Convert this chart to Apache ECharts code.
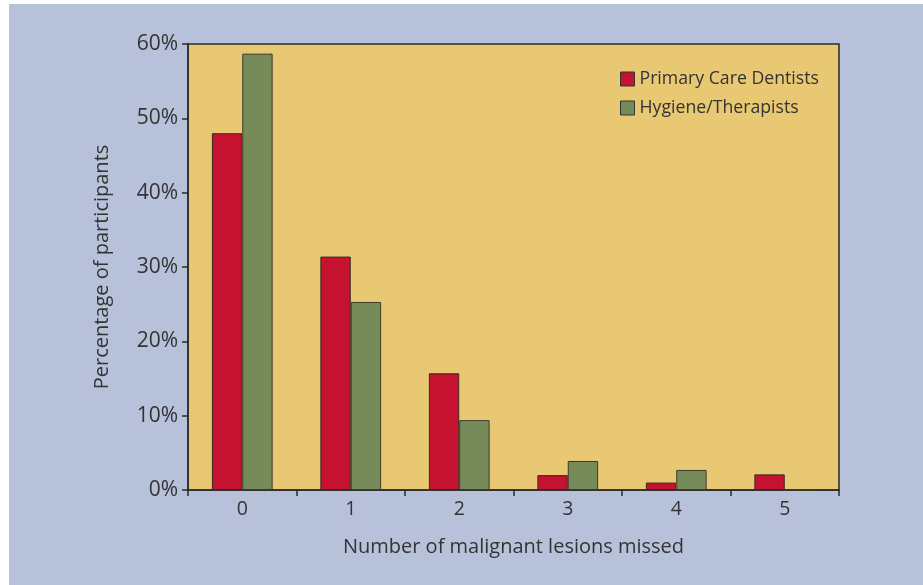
<!DOCTYPE html>
<html>
<head>
<meta charset="utf-8">
<script src="https://cdn.jsdelivr.net/npm/echarts@6/dist/echarts.min.js"></script>
<style>
  html, body { margin: 0; padding: 0; background: #ffffff; }
  #frame { position: absolute; left: 9px; top: 4px; width: 914px; height: 581px; background: #B8C1DA; }
  #chart { position: absolute; left: 0; top: 0; width: 923px; height: 585px; }
</style>
</head>
<body>
<div id="frame"></div>
<div id="chart"></div>
<script>
// Lesions missed per participant, share of each group (%)
const categories = ['0', '1', '2', '3', '4', '5'];
const dentists = [48.0, 31.4, 15.7, 2.0, 1.0, 2.1];
const hygienists = [58.7, 25.3, 9.4, 3.9, 2.7, 0];
const yTicks = [0, 10, 20, 30, 40, 50, 60];

const font = '"Open Sans", "Noto Sans", sans-serif';
const chart = echarts.init(document.getElementById('chart'), null, { renderer: 'canvas' });

chart.setOption({
  backgroundColor: 'transparent',
  textStyle: { fontFamily: font, color: '#333' },
  grid: {
    left: 188, top: 44, right: 84, bottom: 95,
    show: true, backgroundColor: '#E9C873', borderColor: '#2a2a2a', borderWidth: 1.5
  },
  legend: {
    left: 615, top: 65, orient: 'vertical', itemGap: 11,
    itemWidth: 14, itemHeight: 14, icon: 'rect',
    textStyle: { fontFamily: font, fontSize: 17.7, color: '#333' },
    data: [
      { name: 'Primary Care Dentists', itemStyle: { borderColor: '#333', borderWidth: 1 } },
      { name: 'Hygiene/Therapists', itemStyle: { borderColor: '#333', borderWidth: 1 } }
    ]
  },
  xAxis: {
    type: 'category', data: categories,
    name: 'Number of malignant lesions missed', nameLocation: 'middle', nameGap: 47,
    nameTextStyle: { fontFamily: font, fontSize: 20, color: '#333' },
    axisLine: { lineStyle: { color: '#2a2a2a', width: 1.5 } },
    axisTick: { show: true, length: 6, lineStyle: { color: '#2a2a2a', width: 1.5 } },
    axisLabel: { fontFamily: font, fontSize: 19.5, color: '#333', margin: 9 }
  },
  yAxis: {
    type: 'value', min: yTicks[0], max: yTicks[yTicks.length - 1], interval: 10,
    name: 'Percentage of participants', nameLocation: 'middle', nameGap: 76,
    nameTextStyle: { fontFamily: font, fontSize: 20, color: '#333' },
    axisLine: { show: true, lineStyle: { color: '#2a2a2a', width: 1.5 } },
    axisTick: { show: true, length: 6, lineStyle: { color: '#2a2a2a', width: 1.5 } },
    splitLine: { show: false },
    axisLabel: { fontFamily: font, fontSize: 21, color: '#333', margin: 10, formatter: '{value}%' }
  },
  series: [
    {
      name: 'Primary Care Dentists', type: 'bar', data: dentists,
      barGap: '0%', barCategoryGap: '44%',
      itemStyle: { color: '#C41230', borderColor: '#3a2a20', borderWidth: 1 }
    },
    {
      name: 'Hygiene/Therapists', type: 'bar', data: hygienists,
      itemStyle: { color: '#778B5A', borderColor: '#3a3a2a', borderWidth: 1 }
    }
  ]
});
</script>
</body>
</html>
